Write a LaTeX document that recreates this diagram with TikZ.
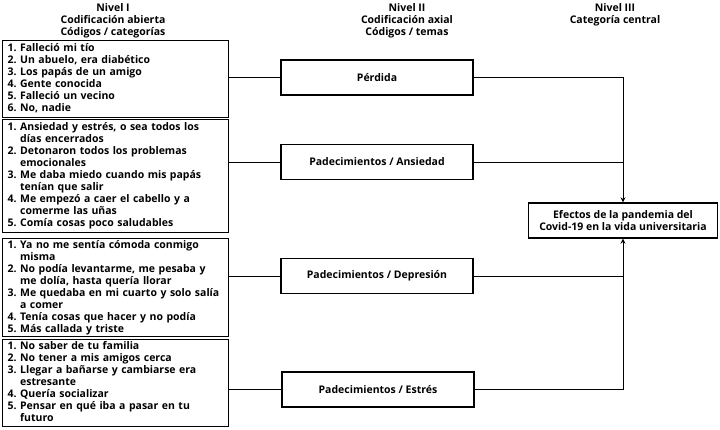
\documentclass[tikz,border=0pt]{standalone}
\usepackage{fontspec}
\setmainfont{Open Sans}
\usetikzlibrary{arrows.meta}
\newcommand{\fsz}{\fontsize{10.5}{12}\selectfont\bfseries}
\tikzset{
  listbox/.style={draw, line width=1.3pt, anchor=north west, inner xsep=5pt, inner ysep=0pt, text width=216pt, align=left, font=\fsz},
  codebox/.style={draw, line width=1.3pt, minimum width=192pt, minimum height=35pt, font=\fsz},
  centralbox/.style={draw, line width=1.3pt, minimum width=189pt, minimum height=35pt, align=center, font=\fsz},
  header/.style={anchor=north, align=center, font=\fsz},
  link/.style={line width=0.9pt},
  arr/.style={line width=0.9pt, -{Stealth[length=5pt,width=5pt]}}
}
\newcommand{\itemrows}[1]{\begin{tabular}{@{}l@{\ }l@{}}#1\end{tabular}}
\begin{document}
\begin{tikzpicture}[x=1pt,y=-1pt]
\useasboundingbox (0,0) rectangle (720,429);
% headers
\node[header] (h1) at (113,0) {Nivel I\\Codificación abierta\\Códigos / categorías};
\node[header] (h2) at (407,0) {Nivel II\\Codificación axial\\Códigos / temas};
\node[header] (h3) at (615,0) {Nivel III\\Categoría central};
% level I boxes
\node[listbox, minimum height=77pt] (b1) at (2,40) {\itemrows{
1. & Falleció mi tío\\
2. & Un abuelo, era diabético\\
3. & Los papás de un amigo\\
4. & Gente conocida\\
5. & Falleció un vecino\\
6. & No, nadie}};
\node[listbox, minimum height=113pt] (b2) at (2,119) {\itemrows{
1. & Ansiedad y estrés, o sea todos los\\
   & días encerrados\\
2. & Detonaron todos los problemas\\
   & emocionales\\
3. & Me daba miedo cuando mis papás\\
   & tenían que salir\\
4. & Me empezó a caer el cabello y a\\
   & comerme las uñas\\
5. & Comía cosas poco saludables}};
\node[listbox, minimum height=98pt] (b3) at (2,238) {\itemrows{
1. & Ya no me sentía cómoda conmigo\\
   & misma\\
2. & No podía levantarme, me pesaba y\\
   & me dolía, hasta quería llorar\\
3. & Me quedaba en mi cuarto y solo salía\\
   & a comer\\
4. & Tenía cosas que hacer y no podía\\
5. & Más callada y triste}};
\node[listbox, minimum height=87pt] (b4) at (2,339) {\itemrows{
1. & No saber de tu familia\\
2. & No tener a mis amigos cerca\\
3. & Llegar a bañarse y cambiarse era\\
   & estresante\\
4. & Quería socializar\\
5. & Pensar en qué iba a pasar en tu\\
   & futuro}};
% level II boxes
\node[codebox] (p) at (377,77.5) {Pérdida};
\node[codebox] (a) at (377,162) {Padecimientos / Ansiedad};
\node[codebox] (d) at (377,276) {Padecimientos / Depresión};
\node[codebox] (e) at (378,389.5) {Padecimientos / Estrés};
% central
\node[centralbox] (c) at (623,220.5) {Efectos de la pandemia del\\Covid-19 en la vida universitaria};
% connectors level I -> II
\draw[link] (p.west) -- (p.west -| b1.east);
\draw[link] (a.west) -- (a.west -| b2.east);
\draw[link] (d.west) -- (d.west -| b3.east);
\draw[link] (e.west) -- (e.west -| b4.east);
% connectors level II -> III
\draw[arr] (p.east) -| (c.north);
\draw[link] (a.east) -- (a.east -| c.north);
\draw[arr] (e.east) -| (c.south);
\draw[link] (d.east) -- (d.east -| c.south);
\end{tikzpicture}
\end{document}
